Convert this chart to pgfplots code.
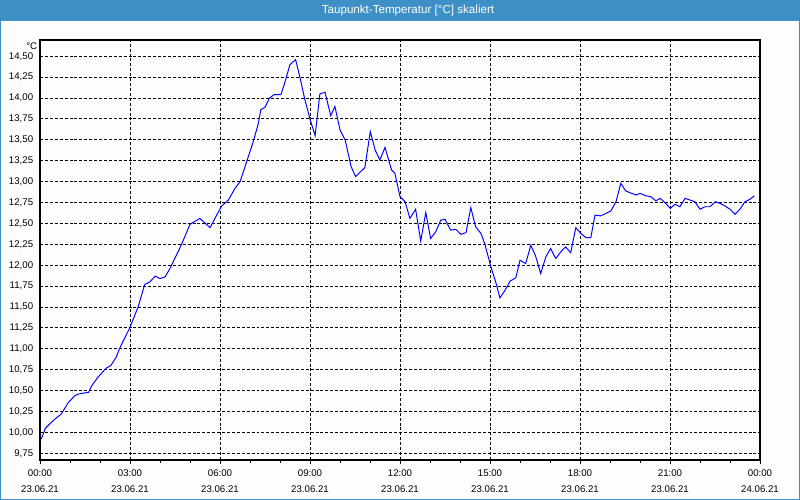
\documentclass[border=0pt]{standalone}
\usepackage{fontspec}
\setmainfont{Liberation Sans}
\usepackage{pgfplots}
\pgfplotsset{compat=1.18}

\definecolor{barblue}{RGB}{61,144,198}
\definecolor{paper}{RGB}{252,253,252}
\definecolor{curve}{RGB}{0,0,255}

% 1px of the 800x500 screen = 0.2mm
\begin{document}
\begin{tikzpicture}
\useasboundingbox (-0.8,-0.8) rectangle (15.2,9.2);
\fill[paper] (-0.8,-0.8) rectangle (15.2,9.2);

\begin{axis}[
    scale only axis,
    width=14.4cm,
    height=8.4cm,
    xmin=0, xmax=24,
    ymin=9.67, ymax=14.695,
    xtick={0,3,...,24},
    xticklabels={{00:00\\23.06.21},{03:00\\23.06.21},{06:00\\23.06.21},{09:00\\23.06.21},{12:00\\23.06.21},{15:00\\23.06.21},{18:00\\23.06.21},{21:00\\23.06.21},{00:00\\24.06.21}},
    minor x tick num=2,
    ytick={9.75,10,...,14.5},
    /pgf/number format/fixed,
    /pgf/number format/fixed zerofill,
    /pgf/number format/precision=2,
    /pgf/number format/use comma,
    /pgf/number format/assume math mode=true,
    xtick pos=bottom, ytick pos=left,
    tick align=outside,
    major tick length=0.9mm,
    minor tick length=0.6mm,
    ytick style={draw=none},
    every tick/.style={black, line width=0.5pt},
    x tick label style={align=center, font=\fontsize{5.5}{9.2}\selectfont, inner sep=0.9mm},
    y tick label style={font=\fontsize{5.5}{6}\selectfont, inner sep=0.4mm},
    grid=major,
    major grid style={black, line width=0.55pt, dash pattern=on 1.7pt off 1.1pt},
    axis line style={black, line width=0.6pt},
    ylabel={°C},
    ylabel style={rotate=-90, at={(rel axis cs:0,1)}, anchor=north east, inner sep=0.5mm, font=\fontsize{5.5}{6}\selectfont},
    clip=true,
]
\addplot[curve, line width=0.55pt] coordinates {
(0.04,9.92) (0.18,10.05) (0.32,10.10) (0.50,10.16) (0.71,10.22) (0.93,10.35)
(1.16,10.44) (1.29,10.46) (1.62,10.48) (1.71,10.55) (1.93,10.66) (2.21,10.77)
(2.36,10.80) (2.54,10.90) (2.66,11.01) (2.99,11.25) (3.27,11.50) (3.49,11.77)
(3.66,11.80) (3.84,11.87) (4.00,11.84) (4.17,11.86) (4.33,11.96) (4.72,12.25)
(5.00,12.49) (5.33,12.56) (5.67,12.45) (5.89,12.60) (6.06,12.71) (6.28,12.78)
(6.50,12.92) (6.67,13.00) (6.89,13.24) (7.11,13.48) (7.28,13.70) (7.36,13.86)
(7.50,13.89) (7.65,14.00) (7.80,14.04) (8.03,14.04) (8.19,14.22) (8.33,14.40)
(8.52,14.46) (8.67,14.24) (8.83,13.98) (9.00,13.75) (9.17,13.55) (9.33,14.05)
(9.50,14.07) (9.69,13.79) (9.83,13.90) (10.00,13.62) (10.17,13.50) (10.37,13.18)
(10.52,13.06) (10.83,13.17) (11.01,13.60) (11.17,13.38) (11.33,13.26) (11.50,13.41)
(11.72,13.14) (11.83,13.10) (12.00,12.82) (12.17,12.76) (12.33,12.56) (12.52,12.67)
(12.69,12.29) (12.86,12.63) (13.02,12.32) (13.19,12.40) (13.36,12.54) (13.50,12.55)
(13.69,12.42) (13.86,12.43) (14.03,12.37) (14.20,12.39) (14.36,12.69) (14.52,12.46)
(14.70,12.38) (14.83,12.25) (15.03,11.98) (15.19,11.80) (15.33,11.61) (15.50,11.70)
(15.67,11.81) (15.86,11.85) (16.00,12.06) (16.19,12.02) (16.36,12.24) (16.52,12.11)
(16.69,11.90) (16.86,12.10) (17.02,12.20) (17.19,12.08) (17.36,12.16) (17.52,12.22)
(17.69,12.15) (17.86,12.45) (18.03,12.38) (18.20,12.33) (18.36,12.33) (18.50,12.60)
(18.69,12.59) (18.86,12.62) (19.03,12.65) (19.20,12.76) (19.36,12.98) (19.52,12.89)
(19.72,12.86) (19.87,12.84) (20.00,12.86) (20.20,12.83) (20.36,12.82) (20.53,12.77)
(20.67,12.80) (20.83,12.75) (21.01,12.68) (21.17,12.73) (21.33,12.70) (21.50,12.80)
(21.67,12.78) (21.83,12.76) (22.00,12.67) (22.17,12.70) (22.33,12.70) (22.51,12.76)
(22.67,12.74) (22.83,12.71) (23.00,12.67) (23.17,12.61) (23.33,12.67) (23.50,12.76)
(23.67,12.79) (23.81,12.83)
};
\end{axis}

% title bar and window frame
\fill[barblue] (-0.8,8.78) rectangle (15.2,9.2);
\node[white, font=\fontsize{6.6}{8}\selectfont] at (7.36,8.99) {Taupunkt-Temperatur [°C] skaliert};
\draw[barblue, line width=0.5pt] (-0.79,-0.79) rectangle (15.19,9.19);
\end{tikzpicture}
\end{document}
